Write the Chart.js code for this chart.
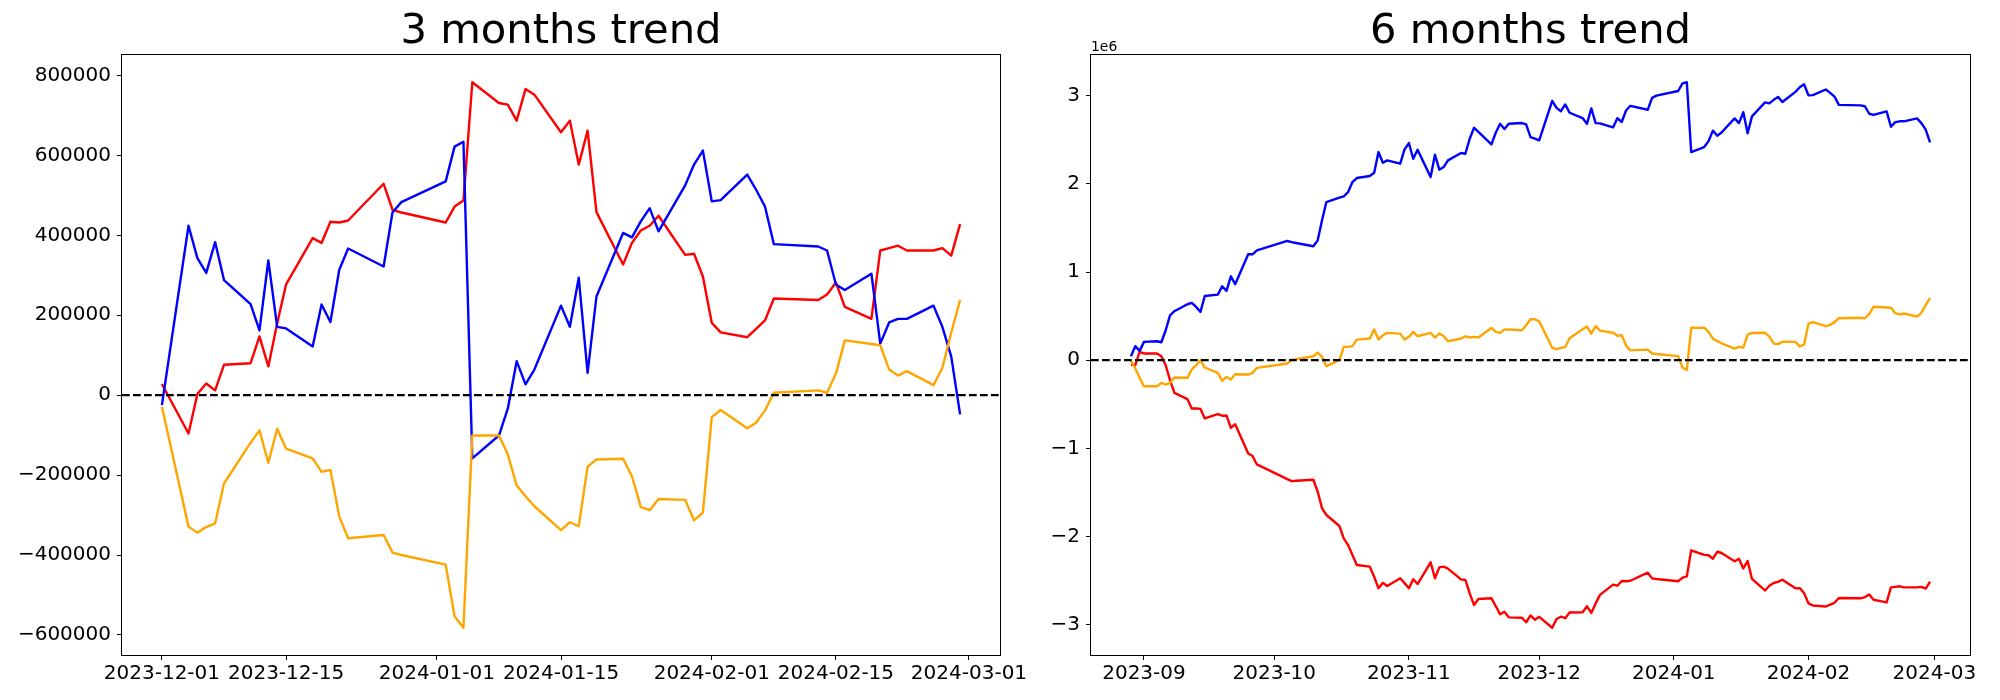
<!DOCTYPE html>
<html lang="en">
<head>
<meta charset="UTF-8">
<script src="https://cdn.jsdelivr.net/npm/chart.js"></script>
<title>3 / 6 months trend</title>
<style>
  body { margin: 0; background: #fff; }
  #c3 { position: absolute; left: 0; top: 0; }
  #c6 { position: absolute; left: 1040px; top: 0; }
</style>
</head>
<body>
<canvas id="c3" width="1040" height="700"></canvas>
<canvas id="c6" width="960" height="700"></canvas>
<script>
// ---- 3 months (values in units) ----
const dates3 = ["2023-12-01","2023-12-04","2023-12-05","2023-12-06","2023-12-07","2023-12-08",
  "2023-12-11","2023-12-12","2023-12-13","2023-12-14","2023-12-15","2023-12-18","2023-12-19",
  "2023-12-20","2023-12-21","2023-12-22","2023-12-26","2023-12-27","2023-12-28",
  "2024-01-02","2024-01-03","2024-01-04","2024-01-05","2024-01-08","2024-01-09","2024-01-10",
  "2024-01-11","2024-01-12","2024-01-15","2024-01-16","2024-01-17","2024-01-18","2024-01-19",
  "2024-01-22","2024-01-23","2024-01-24","2024-01-25","2024-01-26","2024-01-29","2024-01-30",
  "2024-01-31","2024-02-01","2024-02-02","2024-02-05","2024-02-06","2024-02-07","2024-02-08",
  "2024-02-13","2024-02-14","2024-02-15","2024-02-16","2024-02-19","2024-02-20","2024-02-21",
  "2024-02-22","2024-02-23","2024-02-26","2024-02-27","2024-02-28","2024-02-29"];
const blue3 = [-25000,424000,343000,306000,383000,288000,228000,162000,337000,171000,167000,
  122000,227000,183000,314000,367000,322000,457000,483000,535000,622000,634000,-158000,-101000,
  -34000,85000,27000,64000,224000,171000,294000,56000,247000,406000,395000,435000,468000,410000,
  525000,577000,612000,485000,488000,552000,514000,472000,378000,372000,362000,277000,263000,
  304000,129000,182000,191000,191000,224000,171000,97000,-48000];
const red3 = [28000,-96000,3000,29000,12000,76000,80000,147000,72000,180000,277000,393000,
  381000,434000,432000,437000,529000,464000,457000,432000,472000,487000,783000,731000,727000,
  687000,766000,752000,658000,687000,577000,662000,458000,327000,381000,412000,424000,449000,
  351000,354000,297000,181000,157000,145000,166000,187000,242000,238000,252000,282000,221000,
  191000,362000,368000,374000,362000,362000,368000,349000,428000];
const orange3 = [-29000,-329000,-344000,-330000,-321000,-221000,-119000,-88000,-169000,-84000,
  -134000,-158000,-192000,-187000,-304000,-358000,-350000,-394000,-400000,-424000,-554000,
  -582000,-101000,-101000,-148000,-226000,-253000,-278000,-338000,-318000,-328000,-179000,
  -161000,-159000,-203000,-280000,-288000,-260000,-262000,-313000,-294000,-55000,-37000,-83000,
  -69000,-38000,6000,12000,6000,54000,137000,128000,125000,64000,49000,60000,25000,68000,
  156000,238000];
const xTicks3 = ["2023-12-01","2023-12-15","2024-01-01","2024-01-15","2024-02-01","2024-02-15","2024-03-01"];
const yTicks3 = [-600000,-400000,-200000,0,200000,400000,600000,800000];

// ---- 6 months (values in millions, axis shows 1e6) ----
const datesAutumn = ["2023-08-29","2023-08-30","2023-08-31",
  "2023-09-01","2023-09-04","2023-09-05","2023-09-06","2023-09-07","2023-09-08",
  "2023-09-11","2023-09-12","2023-09-13","2023-09-14","2023-09-15",
  "2023-09-18","2023-09-19","2023-09-20","2023-09-21","2023-09-22",
  "2023-09-25","2023-09-26","2023-09-27",
  "2023-10-04","2023-10-05","2023-10-06",
  "2023-10-10","2023-10-11","2023-10-12","2023-10-13",
  "2023-10-16","2023-10-17","2023-10-18","2023-10-19","2023-10-20",
  "2023-10-23","2023-10-24","2023-10-25","2023-10-26","2023-10-27",
  "2023-10-30","2023-10-31",
  "2023-11-01","2023-11-02","2023-11-03",
  "2023-11-06","2023-11-07","2023-11-08","2023-11-09","2023-11-10",
  "2023-11-13","2023-11-14","2023-11-15","2023-11-16","2023-11-17",
  "2023-11-20","2023-11-21","2023-11-22","2023-11-23","2023-11-24",
  "2023-11-27","2023-11-28","2023-11-29","2023-11-30"];
const dates6 = datesAutumn.concat(dates3);
const blue6 = [0.045,0.159,0.106,0.208,0.215,0.204,0.340,0.510,0.556,0.635,0.650,0.605,0.548,0.729,
  0.744,0.839,0.786,0.952,0.862,1.202,1.202,1.247,1.353,1.340,1.330,1.293,1.360,1.587,1.795,
  1.844,1.859,1.908,2.022,2.067,2.090,2.127,2.362,2.241,2.268,2.230,2.392,2.464,2.286,2.388,
  2.078,2.332,2.162,2.192,2.268,2.351,2.343,2.513,2.638,2.590,2.449,2.581,2.683,2.623,2.683,
  2.691,2.676,2.532,2.515,
  2.495,2.944,2.863,2.826,2.903,2.808,2.748,2.682,2.857,2.691,2.687,2.642,2.747,2.703,2.834,
  2.887,2.842,2.977,3.003,3.055,3.142,3.154,2.362,2.419,2.486,2.605,2.547,2.584,2.744,2.691,
  2.814,2.576,2.767,2.926,2.915,2.955,2.988,2.930,3.045,3.097,3.132,3.005,3.008,3.072,3.034,
  2.992,2.898,2.892,2.882,2.797,2.783,2.824,2.649,2.702,2.711,2.711,2.744,2.691,2.617,2.472];
const red6 = [-0.049,-0.057,0.094,0.076,0.076,0.045,-0.057,-0.227,-0.370,-0.442,-0.548,-0.548,
  -0.552,-0.661,-0.612,-0.630,-0.627,-0.767,-0.726,-1.058,-1.088,-1.183,-1.349,-1.372,-1.368,
  -1.357,-1.493,-1.682,-1.757,-1.882,-2.022,-2.098,-2.210,-2.324,-2.343,-2.457,-2.589,-2.525,
  -2.562,-2.475,-2.530,-2.589,-2.487,-2.540,-2.294,-2.475,-2.351,-2.343,-2.366,-2.487,-2.494,
  -2.646,-2.778,-2.710,-2.702,-2.790,-2.884,-2.854,-2.918,-2.922,-2.974,-2.896,-2.945,
  -2.912,-3.036,-2.937,-2.911,-2.928,-2.864,-2.860,-2.793,-2.868,-2.760,-2.663,-2.547,-2.559,
  -2.506,-2.508,-2.503,-2.411,-2.476,-2.483,-2.508,-2.468,-2.453,-2.157,-2.209,-2.213,-2.253,
  -2.174,-2.188,-2.282,-2.253,-2.363,-2.278,-2.482,-2.613,-2.559,-2.528,-2.516,-2.491,-2.589,
  -2.586,-2.643,-2.759,-2.783,-2.795,-2.774,-2.753,-2.698,-2.702,-2.688,-2.658,-2.719,-2.749,
  -2.578,-2.572,-2.566,-2.578,-2.578,-2.572,-2.591,-2.512];
const orange6 = [-0.008,-0.094,-0.200,-0.295,-0.295,-0.257,-0.276,-0.257,-0.196,-0.200,-0.106,
  -0.057,0.000,-0.083,-0.144,-0.234,-0.190,-0.219,-0.159,-0.163,-0.144,-0.087,-0.038,0.007,
  0.011,0.045,0.087,0.038,-0.068,0.000,0.151,0.151,0.159,0.234,0.246,0.348,0.234,0.283,0.310,
  0.302,0.234,0.265,0.321,0.272,0.310,0.257,0.302,0.272,0.215,0.246,0.272,0.257,0.265,0.257,
  0.366,0.321,0.310,0.348,0.348,0.340,0.397,0.465,0.465,
  0.441,0.141,0.126,0.140,0.149,0.249,0.351,0.382,0.301,0.386,0.336,0.312,0.278,0.283,0.166,
  0.112,0.120,0.076,0.070,0.046,-0.084,-0.112,0.369,0.369,0.322,0.244,0.217,0.192,0.132,0.152,
  0.142,0.291,0.309,0.311,0.267,0.190,0.182,0.210,0.208,0.157,0.176,0.415,0.433,0.387,0.401,
  0.432,0.476,0.482,0.476,0.524,0.607,0.598,0.595,0.534,0.519,0.530,0.495,0.538,0.626,0.708];
const xTicks6 = ["2023-09","2023-10","2023-11","2023-12","2024-01","2024-02","2024-03"];
const yTicks6 = [-3,-2,-1,0,1,2,3];

Chart.defaults.font.family = "'DejaVu Sans', sans-serif";
Chart.defaults.color = '#000';

// date string -> day number
const day = s => Date.UTC(+s.slice(0, 4), +s.slice(5, 7) - 1, s.length > 7 ? +s.slice(8, 10) : 1) / 864e5;
const fmtDay = (v, n) => new Date(v * 864e5).toISOString().slice(0, n);
const minus = v => (v < 0 ? '\u2212' + Math.abs(v) : String(v));

// matplotlib-like 5% margins
function withMargin(arr) {
  const lo = Math.min(...arr), hi = Math.max(...arr), m = (hi - lo) * 0.05;
  return [lo - m, hi + m];
}

// black box around the axes, plus optional offset text ("1e6")
const frame = {
  id: 'frame',
  afterDatasetsDraw(chart, args, opts) {
    const { ctx, chartArea: a } = chart;
    ctx.save();
    ctx.strokeStyle = '#000';
    ctx.lineWidth = 1;
    ctx.strokeRect(Math.round(a.left) - 0.5, Math.round(a.top) - 0.5,
      Math.round(a.right - a.left) + 1, Math.round(a.bottom - a.top) + 1);
    if (opts.offsetText) {
      ctx.fillStyle = '#000';
      ctx.font = "13.9px 'DejaVu Sans', sans-serif";
      ctx.textAlign = 'left';
      ctx.textBaseline = 'alphabetic';
      ctx.fillText(opts.offsetText, a.left, a.top - 4);
    }
    ctx.restore();
  }
};

function makeChart(id, cfg) {
  const xs = cfg.dates.map(day);
  const [xmin, xmax] = withMargin(xs);
  const [ymin, ymax] = withMargin(cfg.series.flatMap(s => s.values));
  const datasets = cfg.series.map(s => ({
    data: s.values.map((v, i) => ({ x: xs[i], y: v })),
    borderColor: s.color,
    borderWidth: 2.4,
    pointRadius: 0,
    tension: 0,
    borderJoinStyle: 'round',
    order: s.order
  }));
  datasets.push({
    data: [{ x: xmin, y: 0 }, { x: xmax, y: 0 }],
    borderColor: '#000',
    borderWidth: 2.2,
    borderDash: [7.7, 3.3],
    pointRadius: 0,
    order: 0
  });
  const tickFont = { size: 20 };
  const grid = { drawOnChartArea: false, drawTicks: true, tickLength: 5, color: '#000', lineWidth: 1 };
  new Chart(document.getElementById(id), {
    type: 'line',
    data: { datasets },
    options: {
      responsive: false,
      animation: false,
      devicePixelRatio: 1,
      layout: { padding: { left: 0, right: cfg.padRight, top: 0, bottom: 0 } },
      plugins: {
        legend: { display: false },
        tooltip: { enabled: false },
        title: {
          display: true,
          text: cfg.title,
          fullSize: false,
          color: '#000',
          font: { size: 41.7, weight: 'normal', lineHeight: '46px' },
          padding: { top: 9, bottom: 0 }
        },
        frame: { offsetText: cfg.offsetText }
      },
      scales: {
        x: {
          type: 'linear',
          min: xmin,
          max: xmax,
          afterBuildTicks: ax => { ax.ticks = cfg.xTicks.map(t => ({ value: day(t) })); },
          afterFit: ax => { ax.height = 45; },
          ticks: { callback: v => fmtDay(v, cfg.xTicks[0].length), maxRotation: 0, autoSkip: false, padding: 2, font: tickFont },
          grid,
          border: { display: false }
        },
        y: {
          type: 'linear',
          min: ymin,
          max: ymax,
          afterBuildTicks: ax => { ax.ticks = cfg.yTicks.map(v => ({ value: v })); },
          afterFit: ax => { ax.width = cfg.yWidth; },
          ticks: { callback: minus, padding: 6, font: tickFont },
          grid,
          border: { display: false }
        }
      }
    },
    plugins: [frame]
  });
}

makeChart('c3', {
  title: '3 months trend',
  dates: dates3,
  series: [
    { values: red3, color: '#ff0000', order: 3 },
    { values: blue3, color: '#0000ff', order: 2 },
    { values: orange3, color: '#ffa500', order: 1 }
  ],
  xTicks: xTicks3,
  yTicks: yTicks3,
  yWidth: 122,
  padRight: 40
});

makeChart('c6', {
  title: '6 months trend',
  dates: dates6,
  series: [
    { values: red6, color: '#ff0000', order: 3 },
    { values: blue6, color: '#0000ff', order: 2 },
    { values: orange6, color: '#ffa500', order: 1 }
  ],
  xTicks: xTicks6,
  yTicks: yTicks6,
  yWidth: 51,
  padRight: 30,
  offsetText: '1e6'
});
</script>
</body>
</html>
